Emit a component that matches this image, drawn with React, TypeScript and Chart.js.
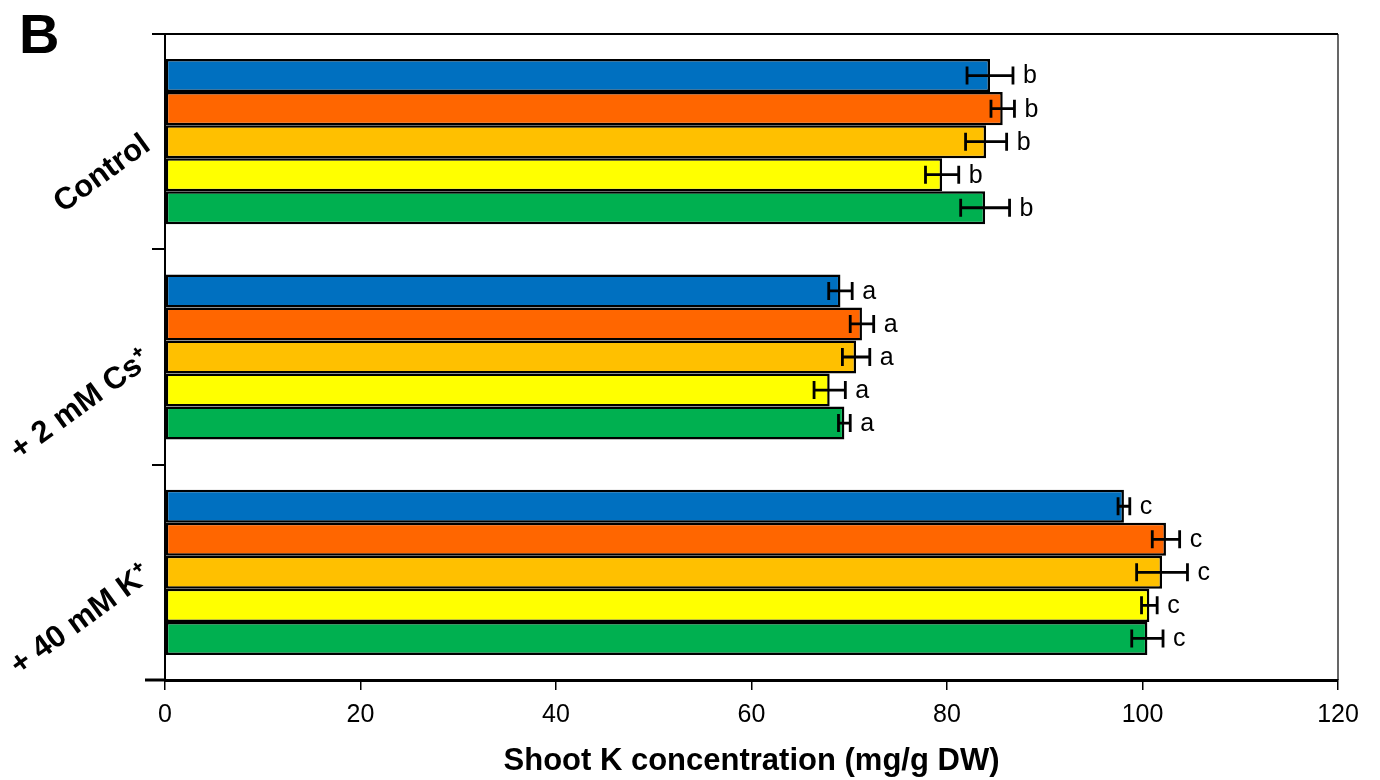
import React, { useEffect, useRef } from "react";
import { Chart, registerables } from "chart.js";

Chart.register(...registerables);

const categories = ["Control", "+ 2 mM Cs⁺", "+ 40 mM K⁺"];
const seriesNames = ["Line 1", "Line 2", "Line 3", "Line 4", "Line 5"];
const seriesColors = ["#0070C0", "#FF6600", "#FFC000", "#FFFF00", "#00B050"];

const values1 = [84.4, 69.1, 98.1];
const values2 = [85.7, 71.3, 102.4];
const values3 = [84.0, 70.7, 102.0];
const values4 = [79.5, 68.0, 100.7];
const values5 = [83.9, 69.5, 100.5];

const errors1 = [2.35, 1.2, 0.6];
const errors2 = [1.2, 1.2, 1.4];
const errors3 = [2.1, 1.4, 2.6];
const errors4 = [1.7, 1.6, 0.8];
const errors5 = [2.5, 0.6, 1.6];

const groupLetters = ["b", "a", "c"];

const xTicksMin = 0;
const xTicksMax = 120;
const xTickStep = 20;

const allValues = [values1, values2, values3, values4, values5];
const allErrors = [errors1, errors2, errors3, errors4, errors5];

const FONT = "'Liberation Sans', Arial, Helvetica, sans-serif";

export default function App() {
  const canvasRef = useRef<HTMLCanvasElement | null>(null);

  useEffect(() => {
    const canvas = canvasRef.current;
    if (!canvas) return;

    const errorBarPlugin = {
      id: "errorBars",
      afterDatasetsDraw(chart: any) {
        const ctx = chart.ctx;
        const xScale = chart.scales.x;
        ctx.save();
        chart.data.datasets.forEach((ds: any, di: number) => {
          const meta = chart.getDatasetMeta(di);
          meta.data.forEach((bar: any, i: number) => {
            const v = allValues[di][i];
            const e = allErrors[di][i];
            const xl = xScale.getPixelForValue(v - e);
            const xr = xScale.getPixelForValue(v + e);
            const y = bar.y;
            const cap = 9;
            ctx.strokeStyle = "#000";
            ctx.lineWidth = 2.8;
            ctx.beginPath();
            ctx.moveTo(xl, y);
            ctx.lineTo(xr, y);
            ctx.moveTo(xl, y - cap);
            ctx.lineTo(xl, y + cap);
            ctx.moveTo(xr, y - cap);
            ctx.lineTo(xr, y + cap);
            ctx.stroke();
            ctx.fillStyle = "#000";
            ctx.font = `25px ${FONT}`;
            ctx.textAlign = "left";
            ctx.textBaseline = "middle";
            ctx.fillText(groupLetters[i], xr + 10, y + 1);
          });
        });
        ctx.restore();
      },
    };

    const framePlugin = {
      id: "frame",
      afterDraw(chart: any) {
        const { ctx, chartArea } = chart;
        ctx.save();
        ctx.strokeStyle = "#000";
        ctx.lineWidth = 2;
        ctx.beginPath();
        ctx.moveTo(chartArea.left, chartArea.top);
        ctx.lineTo(chartArea.right, chartArea.top);
        ctx.stroke();
        ctx.lineWidth = 1.2;
        ctx.beginPath();
        ctx.moveTo(chartArea.right, chartArea.top);
        ctx.lineTo(chartArea.right, chartArea.bottom);
        ctx.stroke();
        ctx.lineWidth = 3;
        ctx.beginPath();
        ctx.moveTo(chartArea.left - 20, chartArea.bottom);
        ctx.lineTo(chartArea.left, chartArea.bottom);
        ctx.stroke();
        ctx.fillStyle = "#000";
        ctx.font = `bold 56px ${FONT}`;
        ctx.textAlign = "left";
        ctx.textBaseline = "alphabetic";
        ctx.fillText("B", 19, 53);
        ctx.restore();
      },
    };

    const chart = new Chart(canvas, {
      type: "bar",
      data: {
        labels: categories,
        datasets: seriesNames.map((name, i) => ({
          label: name,
          data: allValues[i],
          backgroundColor: seriesColors[i],
          borderColor: "#000",
          borderWidth: 2.5,
          borderSkipped: false,
          categoryPercentage: 0.767,
          barPercentage: 1.0,
        })),
      },
      options: {
        indexAxis: "y",
        animation: false,
        responsive: false,
        maintainAspectRatio: false,
        layout: { padding: { left: 0, right: 42, top: 34, bottom: 0 } },
        plugins: {
          legend: { display: false },
          tooltip: { enabled: false },
        },
        scales: {
          x: {
            min: xTicksMin,
            max: xTicksMax,
            ticks: {
              stepSize: xTickStep,
              color: "#000",
              font: { family: FONT, size: 25 },
              padding: 10,
            },
            grid: {
              drawOnChartArea: false,
              drawTicks: true,
              tickLength: 10,
              color: "#000",
              lineWidth: 1.5,
            },
            border: { display: true, color: "#000", width: 3 },
            title: {
              display: true,
              text: "Shoot K concentration (mg/g DW)",
              color: "#000",
              font: { family: FONT, size: 31, weight: "bold" },
              padding: { top: 8, bottom: 0 },
            },
            afterFit(scale: any) {
              scale.height = 100;
            },
          },
          y: {
            type: "category",
            offset: true,
            ticks: {
              color: "#000",
              font: { family: FONT, size: 31, weight: "bold" },
              minRotation: 36,
              maxRotation: 36,
              padding: 5,
              autoSkip: false,
            },
            grid: {
              offset: true,
              drawOnChartArea: false,
              drawTicks: true,
              tickLength: 13,
              color: "#000",
              lineWidth: 2,
            },
            border: { display: true, color: "#000", width: 2 },
            afterFit(scale: any) {
              scale.width = 165;
            },
          },
        },
      },
      plugins: [errorBarPlugin, framePlugin],
    });

    return () => chart.destroy();
  }, []);

  return (
    <div style={{ position: "fixed", left: 0, top: 0, width: 1380, height: 780, background: "#fff" }}>
      <canvas ref={canvasRef} width={1380} height={780} style={{ width: 1380, height: 780 }} />
    </div>
  );
}
